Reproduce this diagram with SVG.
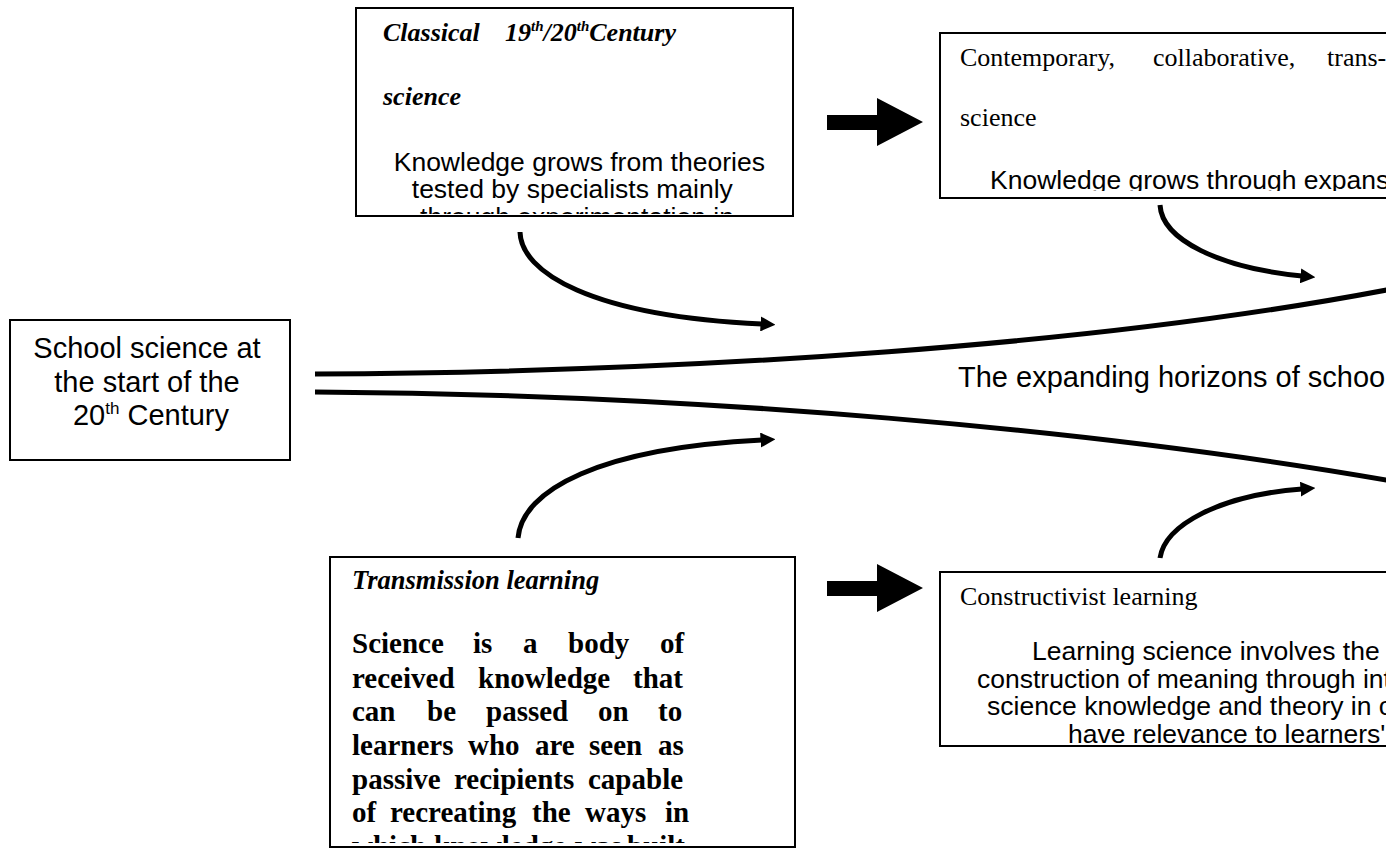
<svg xmlns="http://www.w3.org/2000/svg" width="1386" height="848" viewBox="0 0 1386 848">
<style>
.box{fill:#fff;stroke:#000;stroke-width:2}
.sans{font-family:"Liberation Sans",Arial,sans-serif;fill:#000}
.serif{font-family:"Liberation Serif","Times New Roman",serif;fill:#000}
.body{font-size:26.5px}
.bi{font-weight:bold;font-style:italic}
.b{font-weight:bold}
.line{fill:none;stroke:#000;stroke-width:5}
.curve{fill:none;stroke:#000;stroke-width:5}
</style>
<defs>
<clipPath id="c1"><rect x="357" y="9" width="435" height="205"/></clipPath>
<clipPath id="c2"><rect x="941" y="34" width="445" height="157"/></clipPath>
<clipPath id="c3"><rect x="331" y="558" width="463" height="285"/></clipPath>
<clipPath id="c4"><rect x="941" y="573" width="445" height="171"/></clipPath>
<marker id="ah" viewBox="0 0 10 10" refX="1" refY="5" markerWidth="3" markerHeight="3" orient="auto" markerUnits="strokeWidth">
<path d="M0,0 L10,5 L0,10 Z" fill="#000"/>
</marker>
</defs>
<rect width="1386" height="848" fill="#fff"/>

<g id="connectors">
<path class="line" d="M315,374 C700,372 1100,345 1392,289"/>
<path class="line" d="M315,392 C700,394 1100,430 1392,481"/>
<path class="curve" d="M520,232 C521,272 590,316 762,324" marker-end="url(#ah)"/>
<path class="curve" d="M1160,205 C1162,240 1220,268 1302,276" marker-end="url(#ah)"/>
<path class="curve" d="M518,538 C522,490 600,448 762,440" marker-end="url(#ah)"/>
<path class="curve" d="M1160,558 C1165,525 1220,495 1302,489" marker-end="url(#ah)"/>
<polygon points="827,115 877,115 877,98 923,122 877,146 877,130 827,130" fill="#000"/>
<polygon points="827,581 877,581 877,564 923,588 877,612 877,596 827,596" fill="#000"/>
</g>

<g id="label-center">
<text class="sans" x="958" y="387" font-size="29">The expanding horizons of schoo</text>
</g>

<g id="node-start">
<rect class="box" x="10" y="320" width="280" height="140"/>
<text class="sans" font-size="29" text-anchor="middle">
<tspan x="151" y="358">School science at</tspan>
<tspan x="151" y="392">the start of the</tspan>
<tspan x="151" y="425">20<tspan font-size="17" dy="-11">th</tspan><tspan dy="11"> Century</tspan></tspan>
</text>
</g>

<g id="node-classical">
<rect class="box" x="356" y="8" width="437" height="208"/>
<g clip-path="url(#c1)">
<text class="serif bi" font-size="26" y="41"><tspan x="383">Classical</tspan><tspan x="505">19</tspan><tspan font-size="15" dy="-10">th</tspan><tspan dy="10">/20</tspan><tspan font-size="15" dy="-10">th</tspan><tspan dy="10">Century</tspan></text>
<text class="serif bi" font-size="26" x="383" y="105">science</text>
<text class="sans body" text-anchor="middle">
<tspan x="583" y="171">Knowledge grows from theories</tspan>
<tspan x="576" y="198">tested by specialists mainly</tspan>
<tspan x="577" y="226">through experimentation in</tspan>
</text>
</g>
</g>

<g id="node-contemporary">
<rect class="box" x="940" y="33" width="460" height="165"/>
<g clip-path="url(#c2)">
<text class="serif" font-size="26" y="66"><tspan x="960">Contemporary,</tspan><tspan x="1153">collaborative,</tspan><tspan x="1327">trans-</tspan></text>
<text class="serif" font-size="26" x="960" y="126">science</text>
<text class="sans body" x="990" y="189">Knowledge grows through expans</text>
</g>
</g>

<g id="node-transmission">
<rect class="box" x="330" y="557" width="465" height="290"/>
<g clip-path="url(#c3)">
<text class="serif bi" font-size="26.5" x="352" y="589">Transmission learning</text>
<g class="serif b" font-size="29">
<text y="653"><tspan x="352">Science</tspan><tspan x="473">is</tspan><tspan x="523">a</tspan><tspan x="568">body</tspan><tspan x="660">of</tspan></text>
<text y="688"><tspan x="352">received</tspan><tspan x="478">knowledge</tspan><tspan x="633">that</tspan></text>
<text y="721"><tspan x="352">can</tspan><tspan x="427">be</tspan><tspan x="486">passed</tspan><tspan x="598">on</tspan><tspan x="658">to</tspan></text>
<text y="755"><tspan x="352">learners</tspan><tspan x="468">who</tspan><tspan x="535">are</tspan><tspan x="589">seen</tspan><tspan x="658">as</tspan></text>
<text y="789"><tspan x="352">passive</tspan><tspan x="454">recipients</tspan><tspan x="588">capable</tspan></text>
<text y="822"><tspan x="352">of</tspan><tspan x="390">recreating</tspan><tspan x="532">the</tspan><tspan x="585">ways</tspan><tspan x="665">in</tspan></text>
<text y="856"><tspan x="352">which</tspan><tspan x="434">knowledge</tspan><tspan x="575">was</tspan><tspan x="627">built</tspan></text>
</g>
</g>
</g>

<g id="node-constructivist">
<rect class="box" x="940" y="572" width="460" height="174"/>
<g clip-path="url(#c4)">
<text class="serif" font-size="26" x="960" y="605">Constructivist learning</text>
<text class="sans body">
<tspan x="1032" y="660">Learning science involves the</tspan>
<tspan x="977" y="688">construction of meaning through int</tspan>
<tspan x="987" y="715">science knowledge and theory in c</tspan>
<tspan x="1068" y="743">have relevance to learners'</tspan>
</text>
</g>
</g>
</svg>
